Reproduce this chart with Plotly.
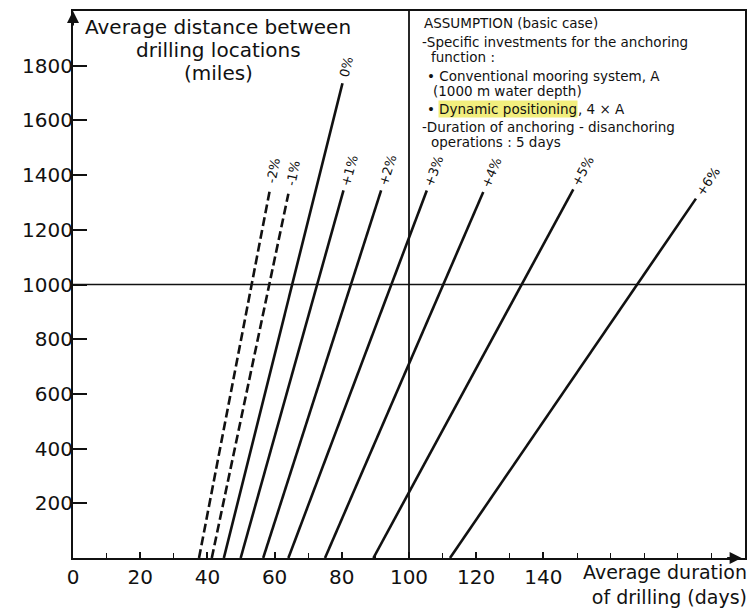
import math
import plotly.graph_objects as go

# ---- data ----
line_labels = ["-2%", "-1%", "0%", "+1%", "+2%", "+3%", "+4%", "+5%", "+6%"]
x_start = [37.5, 41.3, 44.9, 49.9, 56.6, 64.1, 75.0, 89.4, 112.2]   # duration (days) at distance 0
x_end = [58.5, 64.1, 80.2, 80.5, 91.7, 105.3, 122.1, 148.9, 185.4]  # duration at line top
y_end = [1340, 1332, 1736, 1344, 1344, 1344, 1338, 1348, 1314]      # distance (miles) at line top
dashed = [True, True, False, False, False, False, False, False, False]

x_tick_vals = [0, 20, 40, 60, 80, 100, 120, 140]
y_tick_vals = [200, 400, 600, 800, 1000, 1200, 1400, 1600, 1800]
ref_x = 100
ref_y = 1000

assumption_lines = [
    "ASSUMPTION (basic case)",
    "-Specific investments for the anchoring",
    "function :",
    "• Conventional mooring system, A",
    "(1000 m water depth)",
    "-Duration of anchoring - disanchoring",
    "operations : 5 days",
]
highlight_text = "Dynamic positioning"
highlight_tail = ", 4 × A"

# ---- layout geometry (page has an 8px body margin) ----
OFF = 8
W, H = 747, 602
ML, MT = 65, 1
PW, PH = 672, 549
MR = W - ML - PW
MB = H - MT - PH
XR = [0, 200]
YR = [0, 2000]
sx = PW / (XR[1] - XR[0])
sy = PH / (YR[1] - YR[0])
P_LEFT = OFF + ML
P_BOTTOM = OFF + MT + PH


def px(x):
    return (x - P_LEFT) / PW


def py(y):
    return (P_BOTTOM - y) / PH


BLACK = "#111111"
FONT_MAIN = "DejaVu Sans"
NOTE_FS = 13.5

fig = go.Figure()

for lab, xs, xe, ye, d in zip(line_labels, x_start, x_end, y_end, dashed):
    fig.add_trace(go.Scatter(
        x=[xs, xe], y=[0, ye], mode="lines",
        line=dict(color=BLACK, width=2.6, dash="9px,4px" if d else "solid"),
        showlegend=False, hoverinfo="skip"))

annotations = []
# line labels, along the line direction just beyond the top end
lab_fs = 13
for lab, xs, xe, ye in zip(line_labels, x_start, x_end, y_end):
    dxp = (xe - xs) * sx
    dyp = ye * sy
    ang = math.atan2(dyp, dxp)
    w = 0.62 * lab_fs * len(lab)
    dist = 9 + w / 2
    annotations.append(dict(
        x=xe, y=ye, xref="x", yref="y", text=lab, showarrow=False,
        textangle=-math.degrees(ang),
        xshift=dist * math.cos(ang), yshift=dist * math.sin(ang),
        font=dict(family=FONT_MAIN, size=lab_fs, color=BLACK)))

# y-axis title (top left, centred block)
for txt, yy in [("Average distance between", 25), ("drilling locations", 48), ("(miles)", 71)]:
    annotations.append(dict(x=px(218), y=py(yy), xref="paper", yref="paper", text=txt,
                            showarrow=False, xanchor="center", yanchor="middle",
                            font=dict(family=FONT_MAIN, size=20, color=BLACK)))

# x-axis title (bottom right), one two-line block
annotations.append(dict(x=px(749), y=py(585), xref="paper", yref="paper",
                        text="Average duration<br>of drilling (days)", align="right",
                        showarrow=False, xanchor="right", yanchor="middle",
                        font=dict(family=FONT_MAIN, size=19, color=BLACK)))

# assumption box text
note_pos = [(422, 21), (420, 40), (429, 55), (425, 74), (431, 89), (420, 125), (429, 140)]
for txt, (xx, yy) in zip(assumption_lines, note_pos):
    annotations.append(dict(x=px(xx), y=py(yy), xref="paper", yref="paper", text=txt,
                            showarrow=False, xanchor="left", yanchor="middle",
                            font=dict(family=FONT_MAIN, size=NOTE_FS, color=BLACK)))
annotations.append(dict(x=px(425), y=py(107), xref="paper", yref="paper", text="•",
                        showarrow=False, xanchor="left", yanchor="middle",
                        font=dict(family=FONT_MAIN, size=NOTE_FS, color=BLACK)))
annotations.append(dict(x=px(438), y=py(107), xref="paper", yref="paper", text=highlight_text,
                        showarrow=False, xanchor="left", yanchor="middle", bgcolor="#f2ee7e",
                        borderpad=0,
                        font=dict(family=FONT_MAIN, size=NOTE_FS, color=BLACK)))
annotations.append(dict(x=px(576), y=py(107), xref="paper", yref="paper", text=highlight_tail,
                        showarrow=False, xanchor="left", yanchor="middle",
                        font=dict(family=FONT_MAIN, size=NOTE_FS, color=BLACK)))

# axis arrows
annotations.append(dict(x=0, y=YR[1], xref="x", yref="y", ax=0, ay=16, showarrow=True,
                        arrowhead=2, arrowsize=1.2, arrowwidth=2, arrowcolor=BLACK, text=""))
annotations.append(dict(x=XR[1] - 1, y=0, xref="x", yref="y", ax=-16, ay=0, showarrow=True,
                        arrowhead=2, arrowsize=1.2, arrowwidth=2, arrowcolor=BLACK, text=""))

shapes = [
    dict(type="line", xref="x", yref="y", x0=ref_x, x1=ref_x, y0=0, y1=YR[1],
         line=dict(color=BLACK, width=1.8)),
    dict(type="line", xref="x", yref="y", x0=0, x1=XR[1], y0=ref_y, y1=ref_y,
         line=dict(color=BLACK, width=1.6)),
]

fig.update_layout(
    width=W, height=H,
    margin=dict(l=ML, r=MR, t=MT, b=MB, pad=0),
    paper_bgcolor="white", plot_bgcolor="white",
    showlegend=False,
    annotations=annotations,
    shapes=shapes,
    xaxis=dict(range=XR, showgrid=False, zeroline=False, showline=True, linecolor=BLACK,
               linewidth=2, mirror=True, ticks="inside", ticklen=6, tickwidth=1.5,
               tickcolor=BLACK, tickvals=x_tick_vals,
               ticktext=[str(v) for v in x_tick_vals],
               minor=dict(dtick=10, tick0=0, ticks="inside", ticklen=5, tickwidth=1.2,
                          tickcolor=BLACK, showgrid=False),
               tickfont=dict(family=FONT_MAIN, size=20, color=BLACK)),
    yaxis=dict(range=YR, showgrid=False, zeroline=False, showline=True, linecolor=BLACK,
               linewidth=2, mirror=True, ticks="inside", ticklen=14, tickwidth=1.5,
               tickcolor=BLACK, tickvals=y_tick_vals, ticklabelstandoff=-6,
               ticktext=[str(v) for v in y_tick_vals],
               tickfont=dict(family=FONT_MAIN, size=20, color=BLACK)),
)

fig.write_html("out.html")
